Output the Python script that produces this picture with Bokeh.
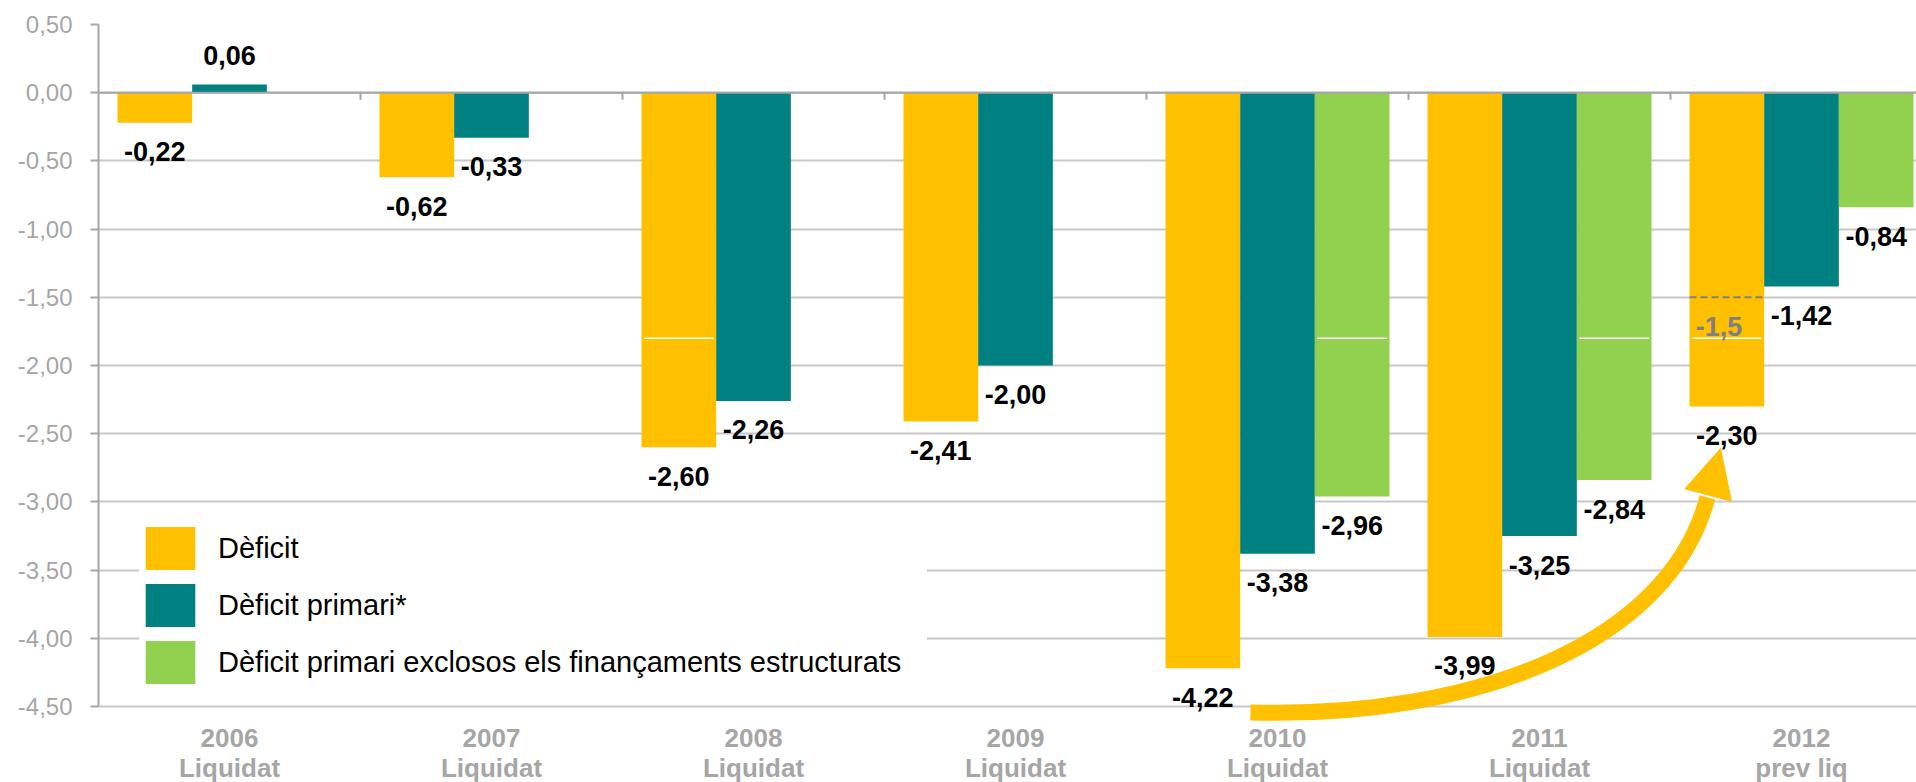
from bokeh.plotting import figure
from bokeh.models import (Range1d, FixedTicker, Span, Legend, LegendItem, Arrow,
                          NormalHead, ColumnDataSource, CustomJSTickFormatter)
from bokeh.embed import file_html
from bokeh.resources import INLINE
from bokeh.core.properties import value

# ---------------- data ----------------
years = ["2006", "2007", "2008", "2009", "2010", "2011", "2012"]
periods = ["Liquidat", "Liquidat", "Liquidat", "Liquidat", "Liquidat", "Liquidat", "prev liq"]
deficit = [-0.22, -0.62, -2.60, -2.41, -4.22, -3.99, -2.30]
deficit_primari = [0.06, -0.33, -2.26, -2.00, -3.38, -3.25, -1.42]
deficit_excl = [None, None, None, None, -2.96, -2.84, -0.84]
series_names = ["Dèficit", "Dèficit primari*",
                "Dèficit primari exclosos els finançaments estructurats"]
target_2012 = -1.5
target_label = "-1,5"
y_ticks = [0.5, 0.0, -0.5, -1.0, -1.5, -2.0, -2.5, -3.0, -3.5, -4.0, -4.5]
y_tick_labels = ["0,50", "0,00", "-0,50", "-1,00", "-1,50", "-2,00", "-2,50",
                 "-3,00", "-3,50", "-4,00", "-4,50"]

# ---------------- style / layout ----------------
COLORS = ["#FFC000", "#008080", "#92D050"]
GRAY = "#A6A6A6"
GRID = "#C8C8C8"
FONT = "Liberation Sans"
W, H = 1916, 782
LEFT, TOP = 98, 24
Y_MIN, Y_MAX = -4.5, 0.5
AXIS_PX = 682                       # pixel height of the value axis (0.50 .. -4.50)
PX_PER_UNIT = AXIS_PX / (Y_MAX - Y_MIN)
FRAME_H = H - TOP                   # frame reaches the bottom edge (room for category labels)
Y_BOTTOM = Y_MAX - FRAME_H / PX_PER_UNIT
FRAME_W = W - LEFT
PX_PER_CAT = 262
X_END = FRAME_W / PX_PER_CAT
LABEL_OFF = 29 / PX_PER_UNIT
BAR_W = 0.285
OFFSETS = [-BAR_W, 0.0, BAR_W]

p = figure(width=W, height=H, x_range=Range1d(0, X_END), y_range=Range1d(Y_BOTTOM, Y_MAX),
           output_backend="svg", toolbar_location=None,
           min_border_left=LEFT, min_border_right=0, min_border_top=TOP,
           min_border_bottom=0)
p.outline_line_color = None
p.background_fill_color = "white"

# grid
p.xgrid.visible = False
p.ygrid.ticker = FixedTicker(ticks=y_ticks)
p.ygrid.grid_line_color = GRID
p.ygrid.grid_line_width = 2

pick_js = """
let best = 0; let d = Infinity;
for (let i = 0; i < vals.length; i++) {
  const dd = Math.abs(vals[i] - tick);
  if (dd < d) { d = dd; best = i; }
}
return labels[best];
"""

# y axis
ya = p.yaxis[0]
ya.bounds = (Y_MIN, Y_MAX)
ya.ticker = FixedTicker(ticks=y_ticks)
ya.formatter = CustomJSTickFormatter(args=dict(vals=y_ticks, labels=y_tick_labels), code=pick_js)
ya.axis_line_color = GRAY
ya.axis_line_width = 2
ya.major_tick_line_color = GRAY
ya.major_tick_line_width = 2
ya.major_tick_out = 8
ya.major_tick_in = 0
ya.minor_tick_line_color = None
ya.major_label_text_font = FONT
ya.major_label_text_font_size = "24px"
ya.major_label_text_color = GRAY
ya.major_label_standoff = 18

# x axis hidden; category labels drawn as text below the value axis
p.xaxis.visible = False
cat_centers = [i + 0.5 for i in range(len(years))]
lab_src = ColumnDataSource(dict(
    x=cat_centers, year=years, period=periods,
    y1=[Y_MIN - 31 / PX_PER_UNIT] * len(years),
    y2=[Y_MIN - 61 / PX_PER_UNIT] * len(years)))
for col, ycol in (("year", "y1"), ("period", "y2")):
    p.text(x="x", y=ycol, text=col, source=lab_src,
           text_font=value(FONT), text_font_style="bold",
           text_font_size="26px", text_color=GRAY,
           text_align="center", text_baseline="middle")

# zero line with category separators
p.add_layout(Span(location=0, dimension="width", line_color=GRAY, line_width=2))
sep_x = list(range(1, len(years)))
p.segment(x0=sep_x, y0=[0] * len(sep_x), x1=sep_x, y1=[-7 / PX_PER_UNIT] * len(sep_x),
          line_color=GRAY, line_width=2)

# bars + labels
all_series = [deficit, deficit_primari, deficit_excl]
bar_renderers = []
for s_idx, (vals, col) in enumerate(zip(all_series, COLORS)):
    xs, tops, txt, ly = [], [], [], []
    for c_idx, v in enumerate(vals):
        if v is None:
            continue
        xs.append(c_idx + 0.5 + OFFSETS[s_idx])
        tops.append(v)
        txt.append(f"{v:.2f}".replace(".", ","))
        ly.append(v + LABEL_OFF if v > 0 else v - LABEL_OFF)
    src = ColumnDataSource(dict(x=xs, top=tops, txt=txt, ly=ly))
    r = p.vbar(x="x", top="top", bottom=0, width=BAR_W, source=src,
               fill_color=col, line_color=None)
    bar_renderers.append(r)
    p.text(x="x", y="ly", text="txt", source=src, text_font=value(FONT),
           text_font_style="bold", text_font_size="27px", text_color="black",
           text_align="center", text_baseline="middle")

# thin white marks inside some bars (as in the original)
MARK_VALUE = -1.8
marks = [(0, 2), (2, 4), (2, 5), (0, 6)]
mx0 = [c + 0.5 + OFFSETS[s] - BAR_W / 2 + 0.01 for s, c in marks]
mx1 = [c + 0.5 + OFFSETS[s] + BAR_W / 2 - 0.01 for s, c in marks]
p.segment(x0=mx0, y0=[MARK_VALUE] * len(marks), x1=mx1, y1=[MARK_VALUE] * len(marks),
          line_color="white", line_width=1.5)

# 2012 target dashed line
tx = len(years) - 1 + 0.5 + OFFSETS[0]
p.segment(x0=[tx - BAR_W / 2], y0=[target_2012], x1=[tx + BAR_W / 2], y1=[target_2012],
          line_color="#808080", line_width=2, line_dash="7 4")
p.text(x=[tx - 0.03], y=[target_2012 - LABEL_OFF], text=[target_label], text_font=value(FONT),
       text_font_style="bold", text_font_size="27px", text_color="#808080",
       text_align="center", text_baseline="middle")

# curved arrow (annotation)
A_P0 = (4.397, -4.544)
A_C0 = (5.237, -4.588)
A_C1 = (5.992, -4.053)
A_P1 = (6.141, -2.968)
A_TIP = (6.191, -2.609)
p.bezier(x0=[A_P0[0]], y0=[A_P0[1]], x1=[A_P1[0]], y1=[A_P1[1]],
         cx0=[A_C0[0]], cy0=[A_C0[1]], cx1=[A_C1[0]], cy1=[A_C1[1]],
         line_color=COLORS[0], line_width=16)
p.add_layout(Arrow(end=NormalHead(size=48, fill_color=COLORS[0], line_color=COLORS[0]),
                   x_start=A_P1[0], y_start=A_P1[1], x_end=A_TIP[0], y_end=A_TIP[1],
                   line_alpha=0))

# legend (location measured from the frame's bottom-left corner)
legend = Legend(items=[LegendItem(label=n, renderers=[r]) for n, r in zip(series_names, bar_renderers)],
                location=(41, 93), orientation="vertical",
                glyph_width=62, glyph_height=54, label_standoff=17, spacing=3,
                padding=0, margin=0, border_line_color=None,
                background_fill_color="white", background_fill_alpha=1.0,
                label_text_font=FONT, label_text_font_size="29px", label_text_color="black",
                label_width=709, label_height=54)
p.add_layout(legend)

open("out.html", "w").write(file_html(p, INLINE))
